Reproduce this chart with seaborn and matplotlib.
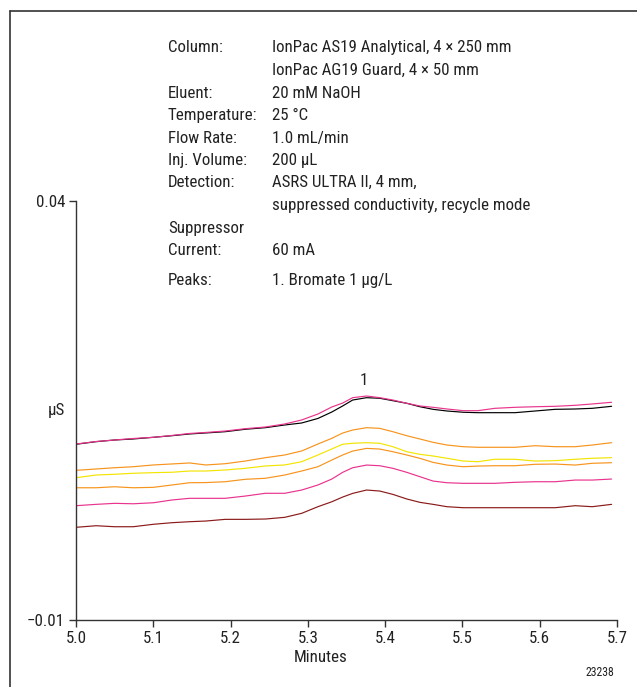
import numpy as np
import pandas as pd
import matplotlib
matplotlib.use("Agg")
import matplotlib.pyplot as plt
from matplotlib.lines import Line2D
import seaborn as sns

# ---------------- data ----------------
minutes = [5.000, 5.026, 5.050, 5.074, 5.100, 5.124, 5.147, 5.168, 5.193, 5.219,
           5.245, 5.270, 5.292, 5.313, 5.331, 5.345, 5.358, 5.376, 5.393, 5.410,
           5.428, 5.445, 5.462, 5.480, 5.501, 5.520, 5.542, 5.568, 5.594, 5.620,
           5.646, 5.668, 5.693]

trace_black = [0.01097, 0.01128, 0.01148, 0.01160, 0.01180, 0.01199, 0.01220, 0.01232, 0.01247, 0.01276,
               0.01295, 0.01327, 0.01351, 0.01405, 0.01482, 0.01554, 0.01625, 0.01653, 0.01646, 0.01617,
               0.01586, 0.01545, 0.01514, 0.01494, 0.01479, 0.01474, 0.01474, 0.01474, 0.01494, 0.01514,
               0.01518, 0.01526, 0.01550]
trace_magenta = [0.01100, 0.01130, 0.01148, 0.01166, 0.01180, 0.01202, 0.01226, 0.01238, 0.01255, 0.01283,
                 0.01303, 0.01339, 0.01387, 0.01458, 0.01542, 0.01589, 0.01653, 0.01673, 0.01653, 0.01625,
                 0.01586, 0.01554, 0.01538, 0.01518, 0.01498, 0.01498, 0.01526, 0.01538, 0.01545, 0.01550,
                 0.01562, 0.01578, 0.01598]
trace_orange1 = [0.00786, 0.00802, 0.00817, 0.00829, 0.00850, 0.00862, 0.00874, 0.00850, 0.00865, 0.00897,
                 0.00937, 0.00969, 0.01017, 0.01100, 0.01168, 0.01231, 0.01267, 0.01295, 0.01287, 0.01247,
                 0.01199, 0.01160, 0.01120, 0.01088, 0.01068, 0.01061, 0.01061, 0.01061, 0.01080, 0.01068,
                 0.01068, 0.01088, 0.01116]
trace_yellow = [0.00698, 0.00730, 0.00739, 0.00751, 0.00758, 0.00763, 0.00778, 0.00778, 0.00790, 0.00810,
                0.00838, 0.00850, 0.00889, 0.00969, 0.01041, 0.01097, 0.01109, 0.01116, 0.01109, 0.01068,
                0.01008, 0.00977, 0.00957, 0.00930, 0.00897, 0.00889, 0.00918, 0.00918, 0.00897, 0.00901,
                0.00918, 0.00930, 0.00937]
trace_orange2 = [0.00578, 0.00578, 0.00590, 0.00578, 0.00583, 0.00611, 0.00638, 0.00640, 0.00650, 0.00679,
                 0.00691, 0.00730, 0.00778, 0.00829, 0.00909, 0.00969, 0.01016, 0.01048, 0.01040, 0.01008,
                 0.00969, 0.00929, 0.00881, 0.00849, 0.00829, 0.00837, 0.00841, 0.00841, 0.00858, 0.00861,
                 0.00849, 0.00870, 0.00877]
trace_pink = [0.00364, 0.00380, 0.00392, 0.00387, 0.00399, 0.00432, 0.00452, 0.00452, 0.00452, 0.00479,
              0.00512, 0.00512, 0.00551, 0.00611, 0.00682, 0.00762, 0.00817, 0.00849, 0.00841, 0.00810,
              0.00762, 0.00710, 0.00658, 0.00638, 0.00631, 0.00631, 0.00631, 0.00643, 0.00650, 0.00650,
              0.00670, 0.00670, 0.00682]
trace_darkred = [0.00106, 0.00125, 0.00113, 0.00113, 0.00142, 0.00161, 0.00173, 0.00181, 0.00201, 0.00201,
                 0.00205, 0.00225, 0.00273, 0.00352, 0.00411, 0.00467, 0.00511, 0.00551, 0.00539, 0.00499,
                 0.00444, 0.00404, 0.00380, 0.00352, 0.00340, 0.00340, 0.00340, 0.00340, 0.00340, 0.00340,
                 0.00364, 0.00352, 0.00380]

trace_names = ["black", "magenta", "orange1", "yellow", "orange2", "pink", "darkred"]
trace_values = [trace_black, trace_magenta, trace_orange1, trace_yellow,
                trace_orange2, trace_pink, trace_darkred]
trace_colors = ["#000000", "#e8348c", "#f7941d", "#f2e500", "#f7941d", "#e9338e", "#8b1a1a"]

x_ticks = [5.0, 5.1, 5.2, 5.3, 5.4, 5.5, 5.6, 5.7]
x_ticklabels = ["5.0", "5.1", "5.2", "5.3", "5.4", "5.5", "5.6", "5.7"]
y_ticks = [-0.01, 0.04]
y_ticklabels = ["\u22120.01", "0.04"]

info_labels = ["Column:", "", "Eluent:", "Temperature:", "Flow Rate:", "Inj. Volume:",
               "Detection:", "", "Suppressor", "Current:", "Peaks:"]
info_values = ["IonPac AS19 Analytical, 4 \u00d7 250 mm", "IonPac AG19 Guard, 4 \u00d7 50 mm",
               "20 mM NaOH", "25 \u00b0C", "1.0 mL/min", "200 \u00b5L",
               "ASRS ULTRA II, 4 mm,", "suppressed conductivity, recycle mode",
               "", "60 mA", "1. Bromate 1 \u00b5g/L"]
info_baselines_px = [51.7, 74.5, 98.0, 120.0, 142.7, 165.0, 186.7, 210.0, 232.7, 255.0, 285.0]

# ---------------- style ----------------
sns.set_style("ticks")
plt.rcParams["font.family"] = ["Roboto Condensed", "DejaVu Sans"]
plt.rcParams["axes.edgecolor"] = "#333333"
plt.rcParams["text.color"] = "#222222"

W, H = 637, 687
fig = plt.figure(figsize=(W / 100, H / 100), dpi=100)
fig.patch.set_facecolor("white")

def fx(x):
    return x / W

def fy(y):
    return 1 - y / H

ax = fig.add_axes([fx(76), fy(620), fx(617) - fx(76), fy(201) - fy(620)])
ax.set_facecolor("white")

frames = []
for name, vals in zip(trace_names, trace_values):
    frames.append(pd.DataFrame({"Minutes": minutes, "uS": vals, "trace": name}))
df = pd.concat(frames, ignore_index=True)

sns.lineplot(data=df, x="Minutes", y="uS", hue="trace", hue_order=trace_names,
             palette=dict(zip(trace_names, trace_colors)), linewidth=0.85,
             legend=False, ax=ax, estimator=None, sort=False)

FS = 12.2

ax.set_xlim(5.0, 5.7)
ax.set_ylim(-0.01, 0.04)
ax.set_xticks(x_ticks)
ax.set_xticklabels(x_ticklabels)
ax.set_yticks(y_ticks)
ax.set_yticklabels(y_ticklabels)
ax.tick_params(axis="both", direction="out", length=5, width=1.0, colors="#333333",
               labelsize=FS, labelcolor="#222222", pad=3)
for s in ["top", "right"]:
    ax.spines[s].set_visible(False)
for s in ["left", "bottom"]:
    ax.spines[s].set_linewidth(1.0)
ax.set_xlabel("")
ax.set_ylabel("")

# axis labels
fig.text(fx(321), fy(658), "Minutes", ha="center", va="center", fontsize=FS)
fig.text(fx(65), fy(410), "\u00b5S", ha="right", va="center", fontsize=FS)
fig.text(fx(614), fy(672), "23238", ha="right", va="center", fontsize=8.5)

# peak label
ax.annotate("1", xy=(5.373, 0.0167), xytext=(0, 6), textcoords="offset points",
            ha="center", va="bottom", fontsize=FS)

# info block
for lab, val, yb in zip(info_labels, info_values, info_baselines_px):
    if lab:
        fig.text(fx(168), fy(yb), lab, ha="left", va="baseline", fontsize=FS)
    if val:
        fig.text(fx(272), fy(yb), val, ha="left", va="baseline", fontsize=FS)

# outer frame (left and top edges)
fig.add_artist(Line2D([fx(10), fx(10)], [fy(11), 0], transform=fig.transFigure,
                      color="#333333", linewidth=1.2))
fig.add_artist(Line2D([fx(10), 1], [fy(11), fy(11)], transform=fig.transFigure,
                      color="#333333", linewidth=1.2))

fig.savefig("out.png", dpi=100, facecolor="white")
